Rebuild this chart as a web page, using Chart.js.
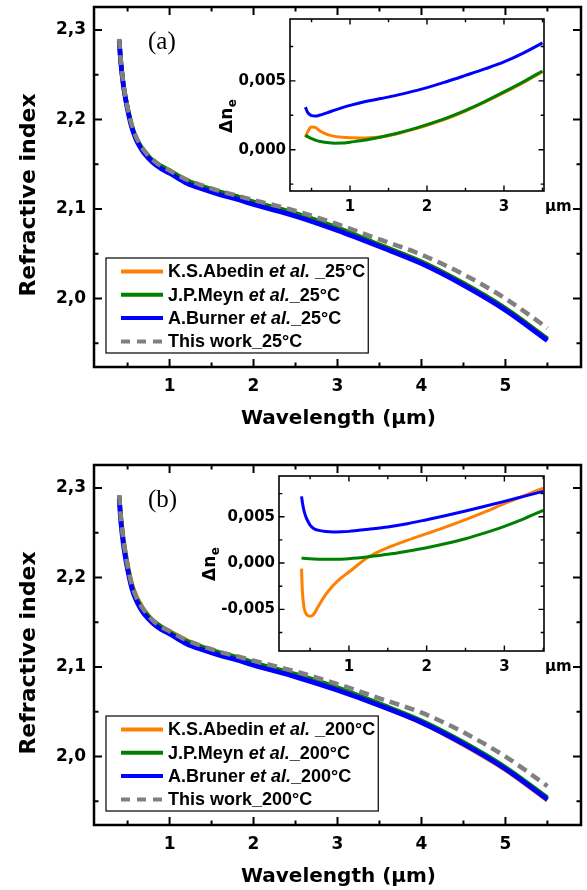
<!DOCTYPE html>
<html><head><meta charset="utf-8">
<script src="https://cdn.jsdelivr.net/npm/chart.js@4.4.1/dist/chart.umd.min.js"></script>
<style>
html,body{margin:0;padding:0;background:#fff;}
body{width:587px;height:890px;position:relative;overflow:hidden;}
canvas{position:absolute;}
</style></head><body>
<canvas id="mainA" width="587" height="445" style="left:0;top:0;width:587px;height:445px"></canvas>
<canvas id="mainB" width="587" height="445" style="left:0;top:445px;width:587px;height:445px"></canvas>
<canvas id="insetA" width="387" height="230" style="left:200px;top:0;width:387px;height:230px"></canvas>
<canvas id="insetB" width="397" height="225" style="left:190px;top:455px;width:397px;height:225px"></canvas>
<script>
// ---------------- data ----------------
const wavelength = [0.40,0.42,0.45,0.48,0.50,0.55,0.60,0.65,0.70,0.80,0.90,1.00,1.20,1.40,1.60,1.80,2.00,2.50,3.00,3.50,4.00,4.50,5.00,5.50];

const abedin25   = [2.289,2.263,2.238,2.221,2.212,2.192,2.179,2.170,2.164,2.154,2.147,2.143,2.132,2.125,2.119,2.114,2.108,2.095,2.079,2.060,2.041,2.017,1.989,1.955];
const meyn25     = [2.289,2.264,2.239,2.222,2.213,2.193,2.180,2.171,2.164,2.154,2.148,2.143,2.132,2.125,2.119,2.114,2.108,2.095,2.079,2.060,2.041,2.017,1.989,1.955];
const bruner25   = [2.288,2.263,2.238,2.221,2.211,2.191,2.178,2.169,2.162,2.152,2.145,2.140,2.129,2.122,2.116,2.111,2.105,2.092,2.076,2.058,2.039,2.015,1.987,1.953];
const thisWork25 = [2.290,2.265,2.240,2.223,2.213,2.194,2.181,2.172,2.165,2.155,2.148,2.143,2.133,2.126,2.120,2.115,2.110,2.098,2.083,2.066,2.049,2.027,2.000,1.967];

const abedin200   = [2.292,2.268,2.243,2.225,2.214,2.193,2.180,2.171,2.163,2.152,2.145,2.140,2.130,2.122,2.115,2.109,2.104,2.090,2.075,2.057,2.038,2.013,1.985,1.951];
const meyn200     = [2.291,2.266,2.241,2.223,2.212,2.191,2.178,2.169,2.162,2.152,2.145,2.139,2.129,2.122,2.116,2.111,2.105,2.092,2.077,2.059,2.040,2.016,1.988,1.954];
const bruner200   = [2.288,2.262,2.237,2.219,2.209,2.188,2.175,2.166,2.159,2.149,2.142,2.137,2.126,2.119,2.113,2.108,2.102,2.089,2.074,2.057,2.038,2.014,1.986,1.952];
const thisWork200 = [2.292,2.267,2.242,2.224,2.213,2.192,2.179,2.170,2.163,2.152,2.145,2.140,2.130,2.123,2.117,2.112,2.107,2.095,2.081,2.065,2.049,2.027,2.000,1.967];

// inset (a): delta n_e
const insetWlA   = [0.42,0.45,0.48,0.50,0.55,0.60,0.70,0.80,0.90,1.00,1.20,1.40,1.60,1.80,2.00,2.25,2.50,2.75,3.00,3.25,3.50];
const dAbedin25  = [0.00092,0.00130,0.00158,0.00165,0.00162,0.00140,0.00112,0.00097,0.00090,0.00087,0.00086,0.00092,0.00114,0.00144,0.00178,0.00225,0.00281,0.00345,0.00414,0.00487,0.00566];
const dMeyn25    = [0.00104,0.00095,0.00086,0.00080,0.00070,0.00062,0.00052,0.00047,0.00048,0.00055,0.00070,0.00092,0.00118,0.00148,0.00182,0.00230,0.00286,0.00350,0.00420,0.00493,0.00572];
const dBruner25  = [0.00310,0.00270,0.00255,0.00248,0.00245,0.00250,0.00268,0.00288,0.00306,0.00322,0.00350,0.00372,0.00395,0.00422,0.00451,0.00494,0.00540,0.00587,0.00638,0.00702,0.00776];

// inset (b): delta n_e
const insetWlB   = [0.39,0.40,0.42,0.45,0.48,0.50,0.55,0.60,0.70,0.80,0.90,1.00,1.25,1.50,1.75,2.00,2.25,2.50,2.75,3.00,3.25,3.50];
const dAbedin200 = [-0.0006,-0.0029,-0.0047,-0.0055,-0.0057,-0.00576,-0.0055,-0.00475,-0.0034,-0.0024,-0.0016,-0.00097,0.00065,0.00166,0.00245,0.00317,0.0039,0.00468,0.00552,0.00641,0.00725,0.0081];
const dMeyn200   = [0.00054,0.00053,0.00051,0.00049,0.00047,0.00046,0.00044,0.00042,0.00041,0.00040,0.00042,0.00047,0.00068,0.00094,0.00128,0.00166,0.00211,0.00263,0.00326,0.00396,0.00477,0.00569];
const dBruner200 = [0.0072,0.0066,0.0057,0.0049,0.0044,0.0041,0.0037,0.00355,0.0034,0.00335,0.00337,0.00342,0.00365,0.0039,0.00425,0.00468,0.00513,0.00562,0.00613,0.00666,0.0072,0.00774];

// tick labels
const mainXTicks = [1,2,3,4,5];
const mainYTicks = [2.0,2.1,2.2,2.3];
const insetXTicks = [1,2,3];
const insetYTicksA = [0,0.005];
const insetYTicksB = [-0.005,0,0.005];

const labels25  = ['K.S.Abedin et al. _25°C','J.P.Meyn et al._25°C','A.Burner et al._25°C','This work_25°C'];
const labels200 = ['K.S.Abedin et al. _200°C','J.P.Meyn et al._200°C','A.Bruner et al._200°C','This work_200°C'];

// ---------------- styling / helpers ----------------
const ORANGE = '#FF8000', GREEN = '#008000', BLUE = '#0000FF', GREY = '#808080';
Chart.defaults.font.family = 'DejaVu Sans';
Chart.defaults.color = '#000';

function pts(xs, ys) { return xs.map((x, i) => ({x: x, y: ys[i]})); }
function comma(v, d) { const s = (Math.abs(v) < 1e-12 ? 0 : v).toFixed(d); return s.replace('.', ','); }

const frameTicks = {
  id: 'frameTicks',
  beforeDatasetsDraw(chart, args, o) {
    if (!o.fill) return;
    const a = chart.chartArea, ctx = chart.ctx;
    ctx.save(); ctx.fillStyle = '#fff'; ctx.fillRect(a.left, a.top, a.right - a.left, a.bottom - a.top); ctx.restore();
  },
  afterDraw(chart, args, o) {
    const ctx = chart.ctx, a = chart.chartArea, xs = chart.scales.x, ys = chart.scales.y;
    ctx.save();
    ctx.strokeStyle = '#000'; ctx.lineCap = 'butt'; ctx.lineWidth = o.tickWidth;
    ctx.beginPath();
    let i0 = Math.ceil(xs.min / o.xMinor - 1e-6), i1 = Math.floor(xs.max / o.xMinor + 1e-6);
    for (let i = i0; i <= i1; i++) {
      const v = i * o.xMinor, p = xs.getPixelForValue(v);
      const major = Math.abs(v / o.xMajor - Math.round(v / o.xMajor)) < 1e-6;
      const L = major ? o.majorLen : o.minorLen;
      ctx.moveTo(p, a.bottom); ctx.lineTo(p, a.bottom - L);
      ctx.moveTo(p, a.top); ctx.lineTo(p, a.top + L);
    }
    i0 = Math.ceil(ys.min / o.yMinor - 1e-6); i1 = Math.floor(ys.max / o.yMinor + 1e-6);
    for (let i = i0; i <= i1; i++) {
      const v = i * o.yMinor, p = ys.getPixelForValue(v);
      const major = Math.abs(v / o.yMajor - Math.round(v / o.yMajor)) < 1e-6;
      const L = major ? o.majorLen : o.minorLen;
      ctx.moveTo(a.left, p); ctx.lineTo(a.left + L, p);
      ctx.moveTo(a.right, p); ctx.lineTo(a.right - L, p);
    }
    ctx.stroke();
    ctx.lineWidth = o.frameWidth;
    ctx.strokeRect(a.left, a.top, a.right - a.left, a.bottom - a.top);
    ctx.restore();
  }
};

function drawLegend(chart) {
  const ctx = chart.ctx, a = chart.chartArea;
  const left = a.left + 12, top = a.bottom - 109, rowH = 23.3, first = 13.5;
  const fN = 'bold 18px "Liberation Sans"', fI = 'italic bold 18px "Liberation Sans"';
  const parts = chart.data.datasets.map(ds => {
    const l = ds.label, k = l.indexOf('et al.');
    return k < 0 ? [[l, false]] : [[l.slice(0, k), false], ['et al.', true], [l.slice(k + 6), false]];
  });
  let maxW = 0;
  parts.forEach(p => { let w = 0; p.forEach(([t, it]) => { ctx.font = it ? fI : fN; w += ctx.measureText(t).width; }); maxW = Math.max(maxW, w); });
  const textX = left + 62, right = textX + maxW + 3, bottom = top + 95;
  ctx.save();
  ctx.fillStyle = '#fff'; ctx.fillRect(left, top, right - left, bottom - top);
  ctx.strokeStyle = '#000'; ctx.lineWidth = 1.2; ctx.strokeRect(left, top, right - left, bottom - top);
  chart.data.datasets.forEach((ds, i) => {
    const cy = top + first + i * rowH;
    ctx.beginPath();
    ctx.strokeStyle = ds.borderColor; ctx.lineWidth = 4;
    const dashed = ds.borderDash && ds.borderDash.length;
    ctx.setLineDash(dashed ? [9, 7] : []); ctx.lineCap = 'butt';
    ctx.moveTo(left + 15, cy); ctx.lineTo(left + 57, cy); ctx.stroke();
    ctx.setLineDash([]);
    let x = textX;
    ctx.fillStyle = '#000'; ctx.textAlign = 'left'; ctx.textBaseline = 'middle';
    parts[i].forEach(([t, it]) => { ctx.font = it ? fI : fN; ctx.fillText(t, x, cy + 1); x += ctx.measureText(t).width; });
  });
  ctx.restore();
}

function mainDecor(panelLabel) {
  return {
    id: 'mainDecor',
    afterDraw(chart) {
      const ctx = chart.ctx, a = chart.chartArea;
      ctx.save();
      ctx.fillStyle = '#000';
      ctx.font = 'bold 20px "DejaVu Sans"'; ctx.textAlign = 'center'; ctx.textBaseline = 'middle';
      ctx.fillText('Wavelength (µm)', (a.left + a.right) / 2 + 1, a.bottom + 52);
      ctx.font = 'bold 22px "DejaVu Sans"';
      ctx.save(); ctx.translate(29, (a.top + a.bottom) / 2 + 8); ctx.rotate(-Math.PI / 2);
      ctx.fillText('Refractive index', 0, 0); ctx.restore();
      ctx.font = '25px "Liberation Serif"'; ctx.textAlign = 'left';
      ctx.fillText(panelLabel, a.left + 54, a.top + 35);
      ctx.restore();
      drawLegend(chart);
    }
  };
}

function insetDecor(bx, by) {
  return {
    id: 'insetDecor',
    afterDraw(chart) {
      const ctx = chart.ctx, a = chart.chartArea;
      ctx.save(); ctx.fillStyle = '#000';
      ctx.font = 'bold 15px "DejaVu Sans"'; ctx.textAlign = 'left'; ctx.textBaseline = 'middle';
      ctx.fillText('µm', a.right + 1, a.bottom + 16.5);
      ctx.translate(bx, by); ctx.rotate(-Math.PI / 2);
      ctx.textBaseline = 'alphabetic';
      ctx.font = 'bold 17px "DejaVu Sans"'; ctx.fillText('Δn', 0, 0);
      const w = ctx.measureText('Δn').width;
      ctx.font = 'bold 12px "DejaVu Sans"'; ctx.fillText('e', w + 0.5, 4);
      ctx.restore();
    }
  };
}

function lineDs(label, xs, ys, color, width, order, dash) {
  return {label: label, data: pts(xs, ys), borderColor: color, backgroundColor: color, borderWidth: width,
          pointRadius: 0, cubicInterpolationMode: 'monotone', order: order, borderDash: dash || [], fill: false};
}

function tickFont(size) { return {family: 'DejaVu Sans', size: size, weight: 'bold'}; }

function makeMain(id, labels, series, padTop, xAxisH, panelLabel) {
  new Chart(document.getElementById(id), {
    type: 'line',
    data: {datasets: [
      lineDs(labels[0], wavelength, series[0], ORANGE, 4.5, 4),
      lineDs(labels[1], wavelength, series[1], GREEN, 4.5, 3),
      lineDs(labels[2], wavelength, series[2], BLUE, 4.8, 2),
      lineDs(labels[3], wavelength, series[3], GREY, 4.5, 1, [10, 6])
    ]},
    options: {
      responsive: false, animation: false, devicePixelRatio: 1,
      layout: {padding: {left: 0, right: 6, top: padTop, bottom: 0}},
      plugins: {legend: {display: false}, tooltip: {enabled: false},
        frameTicks: {xMajor: 1, xMinor: 0.5, yMajor: 0.1, yMinor: 0.05, majorLen: 8, minorLen: 4.5, tickWidth: 2, frameWidth: 2.5, fill: false}},
      scales: {
        x: {type: 'linear', min: 0.1, max: 5.9,
            afterBuildTicks: s => { s.ticks = mainXTicks.map(v => ({value: v})); },
            afterFit: s => { s.height = xAxisH; s.paddingLeft = 0; s.paddingRight = 0; },
            grid: {display: false, drawTicks: false}, border: {display: false},
            ticks: {padding: 9, autoSkip: false, maxRotation: 0, font: tickFont(17), color: '#000', callback: v => String(v)}},
        y: {type: 'linear', min: 1.9235, max: 2.3257,
            afterBuildTicks: s => { s.ticks = mainYTicks.map(v => ({value: v})); },
            afterFit: s => { s.width = 94; s.paddingTop = 0; s.paddingBottom = 0; },
            grid: {display: false, drawTicks: false}, border: {display: false},
            ticks: {padding: 8, autoSkip: false, font: tickFont(17), color: '#000', callback: v => comma(v, 1)}}
      }
    },
    plugins: [frameTicks, mainDecor(panelLabel)]
  });
}

function makeInset(id, xs, series, xmin, xmax, ymin, ymax, yTicks, yW, padTop, padRight, xAxisH, bx, by) {
  new Chart(document.getElementById(id), {
    type: 'line',
    data: {datasets: [
      lineDs('Abedin', xs, series[0], ORANGE, 3, 3),
      lineDs('Meyn', xs, series[1], GREEN, 3, 2),
      lineDs('Bruner', xs, series[2], BLUE, 3, 1)
    ]},
    options: {
      responsive: false, animation: false, devicePixelRatio: 1,
      layout: {padding: {left: 0, right: padRight, top: padTop, bottom: 0}},
      plugins: {legend: {display: false}, tooltip: {enabled: false},
        frameTicks: {xMajor: 1, xMinor: 0.5, yMajor: 0.005, yMinor: 0.0025, majorLen: 5.5, minorLen: 3.3, tickWidth: 1.4, frameWidth: 1.6, fill: true}},
      scales: {
        x: {type: 'linear', min: xmin, max: xmax,
            afterBuildTicks: s => { s.ticks = insetXTicks.map(v => ({value: v})); },
            afterFit: s => { s.height = xAxisH; s.paddingLeft = 0; s.paddingRight = 0; },
            grid: {display: false, drawTicks: false}, border: {display: false},
            ticks: {padding: 7, autoSkip: false, maxRotation: 0, font: tickFont(15), color: '#000', callback: v => String(v)}},
        y: {type: 'linear', min: ymin, max: ymax,
            afterBuildTicks: s => { s.ticks = yTicks.map(v => ({value: v})); },
            afterFit: s => { s.width = yW; s.paddingTop = 0; s.paddingBottom = 0; },
            grid: {display: false, drawTicks: false}, border: {display: false},
            ticks: {padding: 4, autoSkip: false, font: tickFont(15), color: '#000', callback: v => comma(v, 3)}}
      }
    },
    plugins: [frameTicks, insetDecor(bx, by)]
  });
}

makeMain('mainA', labels25, [abedin25, meyn25, bruner25, thisWork25], 7, 78, '(a)');
makeMain('mainB', labels200, [abedin200, meyn200, bruner200, thisWork200], 20, 65, '(b)');
makeInset('insetA', insetWlA, [dAbedin25, dMeyn25, dBruner25], 0.22, 3.52, -0.003, 0.0095, insetYTicksA, 90, 19, 43, 39, 32, 133);
makeInset('insetB', insetWlB, [dAbedin200, dMeyn200, dBruner200], 0.1, 3.51, -0.0095, 0.0094, insetYTicksB, 89, 21, 43, 29, 25, 126);
</script>
</body></html>
